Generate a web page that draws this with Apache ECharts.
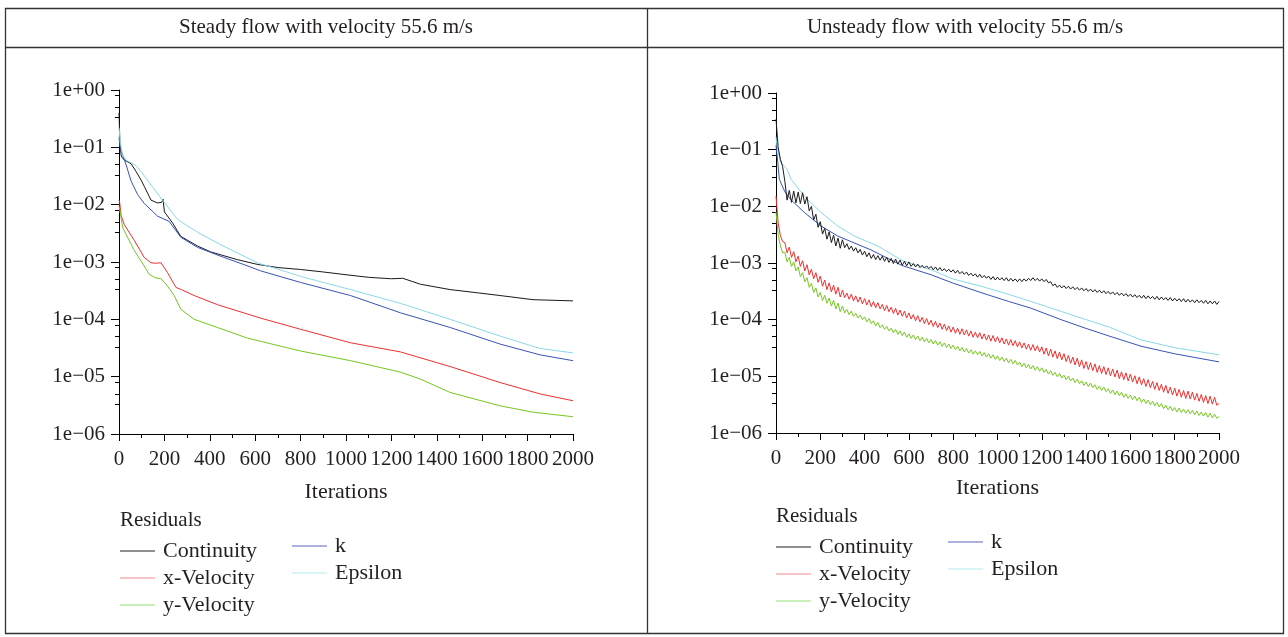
<!DOCTYPE html>
<html><head><meta charset="utf-8">
<script src="https://cdn.jsdelivr.net/npm/echarts@6/dist/echarts.min.js"></script>
<style>html,body{margin:0;padding:0;background:#fff}#c{width:1288px;height:637px}</style>
</head><body><div id="c"></div>
<script>
// ---------- text / categories ----------
const panelTitles = ['Steady flow with velocity 55.6 m/s', 'Unsteady flow with velocity 55.6 m/s'];
const seriesNames = ['Continuity', 'x-Velocity', 'y-Velocity', 'k', 'Epsilon'];
const legendTitle = 'Residuals';
const xAxisName = 'Iterations';
const xTickValues = [0, 200, 400, 600, 800, 1000, 1200, 1400, 1600, 1800, 2000];
const yTickLabels = ['1e\u221206', '1e\u221205', '1e\u221204', '1e\u221203', '1e\u221202', '1e\u221201', '1e+00'];
const yMinorFactors = [0.8, 0.5, 0.33];

// ---------- steady flow: [iteration, residual] ----------
const steadyContinuity = [[0,0.4],[4,0.12],[10,0.07],[23,0.06],[53,0.052],[75,0.038],[97,0.027],[111,0.021],[141,0.012],[170,0.0107],[188,0.011],[194,0.0125],[200,0.0075],[236,0.0048],[272,0.0028],[346,0.0019],[404,0.0015],[521,0.0011],[609,9.1e-4],[700,8e-4],[800,7.4e-4],[900,6.7e-4],[1000,6e-4],[1100,5.4e-4],[1200,5.1e-4],[1250,5.2e-4],[1290,4.6e-4],[1327,4.1e-4],[1459,3.3e-4],[1580,2.9e-4],[1679,2.6e-4],[1824,2.2e-4],[2000,2.1e-4]];
const steadyXVel = [[0,0.012],[3,0.011],[9,0.0065],[16,0.0055],[23,0.0045],[67,0.0024],[111,0.0012],[141,9.7e-4],[160,9.5e-4],[185,9.7e-4],[214,6.5e-4],[251,3.6e-4],[275,3.3e-4],[331,2.6e-4],[434,1.8e-4],[624,1.05e-4],[800,6.7e-5],[1020,3.9e-5],[1240,2.7e-5],[1459,1.5e-5],[1679,7.9e-6],[1855,5e-6],[2000,3.8e-6]];
const steadyYVel = [[0,0.0095],[3,0.009],[9,0.006],[16,0.004],[23,0.0035],[67,0.0016],[111,8.5e-4],[133,6.1e-4],[160,5.3e-4],[185,5.1e-4],[214,3.8e-4],[243,2.6e-4],[272,1.5e-4],[331,1e-4],[434,7.2e-5],[566,4.7e-5],[800,2.8e-5],[1020,1.9e-5],[1240,1.2e-5],[1327,9.1e-6],[1459,5.3e-6],[1679,3.1e-6],[1824,2.4e-6],[2000,2e-6]];
const steadyK = [[0,0.15],[5,0.1],[15,0.075],[31,0.05],[53,0.026],[82,0.015],[111,0.0105],[170,0.0063],[221,0.0051],[272,0.0027],[346,0.0018],[448,0.00126],[551,9e-4],[624,7e-4],[800,4.4e-4],[1020,2.6e-4],[1240,1.3e-4],[1459,7.2e-5],[1679,3.7e-5],[1855,2.4e-5],[2000,1.9e-5]];
const steadyEps = [[0,0.22],[6,0.12],[15,0.075],[30,0.06],[53,0.054],[75,0.048],[97,0.038],[141,0.022],[199,0.011],[258,0.0055],[346,0.0033],[448,0.002],[551,0.00126],[615,9.5e-4],[700,7.5e-4],[800,5.6e-4],[1020,3.3e-4],[1240,1.9e-4],[1459,1e-4],[1679,5.1e-5],[1855,3.1e-5],[2000,2.6e-5]];

// ---------- unsteady flow: log10(residual), one sample every 10 iterations ----------
const unsteadySampleStep = 10;
const unsteadyContinuityLog = [-0.46,-0.97,-1.17,-1.30,-1.56,-1.89,-1.72,-1.93,-1.73,-1.94,
-1.75,-1.95,-1.76,-1.96,-1.83,-2.08,-2.00,-2.24,-2.14,-2.37,
-2.27,-2.49,-2.39,-2.58,-2.45,-2.64,-2.51,-2.70,-2.56,-2.74,
-2.59,-2.73,-2.66,-2.76,-2.70,-2.79,-2.73,-2.82,-2.76,-2.86,
-2.79,-2.89,-2.82,-2.92,-2.85,-2.94,-2.87,-2.95,-2.88,-2.97,
-2.90,-2.99,-2.92,-3.01,-2.93,-3.02,-2.95,-3.04,-2.97,-3.05,
-2.98,-3.06,-3.01,-3.07,-3.02,-3.08,-3.04,-3.09,-3.05,-3.10,
-3.06,-3.12,-3.07,-3.13,-3.08,-3.14,-3.10,-3.15,-3.11,-3.16,
-3.12,-3.18,-3.13,-3.19,-3.15,-3.20,-3.16,-3.22,-3.18,-3.23,
-3.19,-3.25,-3.20,-3.26,-3.22,-3.27,-3.23,-3.29,-3.24,-3.30,
-3.25,-3.30,-3.26,-3.31,-3.26,-3.32,-3.27,-3.32,-3.28,-3.33,
-3.28,-3.33,-3.28,-3.32,-3.27,-3.31,-3.26,-3.31,-3.27,-3.32,
-3.28,-3.33,-3.29,-3.35,-3.33,-3.40,-3.37,-3.43,-3.39,-3.44,
-3.40,-3.45,-3.41,-3.46,-3.42,-3.47,-3.43,-3.48,-3.44,-3.49,
-3.45,-3.50,-3.46,-3.51,-3.47,-3.52,-3.48,-3.53,-3.49,-3.54,
-3.50,-3.55,-3.51,-3.56,-3.52,-3.57,-3.53,-3.58,-3.54,-3.59,
-3.55,-3.60,-3.56,-3.61,-3.57,-3.62,-3.57,-3.63,-3.58,-3.63,
-3.59,-3.64,-3.59,-3.65,-3.60,-3.65,-3.61,-3.66,-3.61,-3.67,
-3.62,-3.67,-3.63,-3.68,-3.63,-3.69,-3.64,-3.69,-3.65,-3.70,
-3.65,-3.70,-3.66,-3.71,-3.66,-3.72,-3.67,-3.72,-3.67,-3.73,
-3.68];
const unsteadyXVelLog = [-1.82,-2.30,-2.52,-2.62,-2.64,-2.82,-2.72,-2.90,-2.80,-2.98,
-2.88,-3.06,-2.96,-3.14,-3.03,-3.21,-3.11,-3.28,-3.17,-3.34,
-3.23,-3.41,-3.30,-3.47,-3.35,-3.51,-3.39,-3.55,-3.43,-3.60,
-3.48,-3.61,-3.53,-3.64,-3.55,-3.67,-3.58,-3.69,-3.60,-3.72,
-3.63,-3.74,-3.65,-3.77,-3.68,-3.79,-3.70,-3.81,-3.73,-3.84,
-3.75,-3.86,-3.78,-3.89,-3.80,-3.92,-3.83,-3.94,-3.85,-3.97,
-3.88,-3.99,-3.91,-4.02,-3.93,-4.04,-3.96,-4.07,-3.98,-4.09,
-4.01,-4.12,-4.03,-4.14,-4.06,-4.17,-4.08,-4.19,-4.11,-4.22,
-4.13,-4.24,-4.15,-4.26,-4.16,-4.27,-4.18,-4.29,-4.20,-4.31,
-4.22,-4.32,-4.23,-4.34,-4.25,-4.36,-4.27,-4.38,-4.28,-4.39,
-4.30,-4.41,-4.32,-4.43,-4.34,-4.45,-4.35,-4.46,-4.37,-4.48,
-4.39,-4.50,-4.41,-4.52,-4.43,-4.54,-4.44,-4.55,-4.46,-4.57,
-4.48,-4.61,-4.50,-4.64,-4.52,-4.66,-4.55,-4.69,-4.57,-4.71,
-4.60,-4.74,-4.63,-4.77,-4.66,-4.80,-4.68,-4.83,-4.71,-4.86,
-4.74,-4.88,-4.76,-4.90,-4.78,-4.93,-4.81,-4.95,-4.83,-4.97,
-4.85,-4.99,-4.87,-5.01,-4.89,-5.04,-4.92,-5.06,-4.94,-5.08,
-4.96,-5.10,-4.99,-5.13,-5.01,-5.15,-5.04,-5.18,-5.06,-5.20,
-5.09,-5.23,-5.11,-5.25,-5.14,-5.28,-5.16,-5.30,-5.19,-5.33,
-5.21,-5.35,-5.23,-5.37,-5.25,-5.39,-5.26,-5.40,-5.28,-5.42,
-5.30,-5.44,-5.32,-5.46,-5.34,-5.48,-5.35,-5.49,-5.37,-5.51,
-5.48];
const unsteadyYVelLog = [-2.10,-2.50,-2.70,-2.82,-2.81,-2.98,-2.90,-3.06,-2.98,-3.14,
-3.07,-3.24,-3.17,-3.33,-3.26,-3.43,-3.36,-3.52,-3.44,-3.60,
-3.52,-3.66,-3.57,-3.71,-3.62,-3.76,-3.66,-3.81,-3.71,-3.86,
-3.76,-3.88,-3.82,-3.91,-3.85,-3.94,-3.89,-3.97,-3.92,-4.00,
-3.95,-4.04,-3.98,-4.07,-4.02,-4.11,-4.05,-4.14,-4.09,-4.17,
-4.12,-4.20,-4.15,-4.23,-4.17,-4.26,-4.20,-4.28,-4.22,-4.31,
-4.25,-4.33,-4.27,-4.35,-4.29,-4.37,-4.31,-4.39,-4.33,-4.41,
-4.35,-4.43,-4.37,-4.45,-4.39,-4.47,-4.41,-4.49,-4.43,-4.51,
-4.45,-4.53,-4.47,-4.55,-4.49,-4.57,-4.51,-4.59,-4.53,-4.61,
-4.55,-4.62,-4.56,-4.64,-4.58,-4.66,-4.60,-4.68,-4.62,-4.70,
-4.64,-4.72,-4.66,-4.74,-4.68,-4.76,-4.70,-4.78,-4.72,-4.80,
-4.75,-4.83,-4.77,-4.85,-4.79,-4.87,-4.81,-4.89,-4.83,-4.91,
-4.85,-4.93,-4.88,-4.96,-4.90,-4.98,-4.93,-5.01,-4.95,-5.03,
-4.98,-5.06,-5.00,-5.08,-5.03,-5.11,-5.05,-5.13,-5.08,-5.16,
-5.10,-5.18,-5.12,-5.20,-5.15,-5.23,-5.17,-5.25,-5.19,-5.27,
-5.22,-5.30,-5.24,-5.32,-5.26,-5.34,-5.28,-5.37,-5.31,-5.39,
-5.33,-5.41,-5.35,-5.43,-5.37,-5.46,-5.40,-5.48,-5.42,-5.50,
-5.44,-5.52,-5.46,-5.54,-5.48,-5.57,-5.51,-5.59,-5.53,-5.61,
-5.55,-5.63,-5.56,-5.64,-5.58,-5.65,-5.59,-5.66,-5.60,-5.68,
-5.61,-5.69,-5.63,-5.70,-5.64,-5.72,-5.65,-5.73,-5.67,-5.74,
-5.71];
const unsteadyK = [[0,0.12],[8,0.06],[15,0.03],[40,0.018],[68,0.013],[128,0.0078],[203,0.0045],[278,0.003],[429,0.0017],[570,9e-4],[700,6.2e-4],[800,4.4e-4],[926,3e-4],[1050,2.1e-4],[1150,1.6e-4],[1287,1e-4],[1400,7e-5],[1500,5.2e-5],[1648,3.4e-5],[1800,2.5e-5],[2000,1.8e-5]];
const unsteadyEps = [[0,0.17],[4,0.12],[8,0.1],[20,0.06],[38,0.051],[50,0.045],[68,0.03],[128,0.015],[203,0.0078],[278,0.0045],[353,0.003],[459,0.002],[570,0.0011],[700,7.6e-4],[800,5.2e-4],[926,3.9e-4],[1050,2.8e-4],[1150,2.1e-4],[1287,1.4e-4],[1400,1e-4],[1500,7.5e-5],[1648,4.4e-5],[1800,3.2e-5],[2000,2.4e-5]];

// ---------- styling ----------
const lineColors = ['#1a1a1a', '#ee3030', '#74c81e', '#3a52b4', '#8ad9e6'];
const legendColors = ['#222222', '#f08c8c', '#92e37a', '#5a64bc', '#b6ecf2'];
const FONT = '"Liberation Serif", "Times New Roman", serif';
const TXT = '#231f20';

function fromLog(arr) { return arr.map((e, i) => [i * unsteadySampleStep, Math.pow(10, e)]); }

const grids = [
  { left: 119, top: 90, width: 454, height: 344 },
  { left: 776, top: 93, width: 443, height: 340 }
];

function xAxisFor(gi, nameGap) {
  return {
    type: 'value', gridIndex: gi, min: 0, max: 2000, interval: 200, position: 'bottom',
    name: xAxisName, nameLocation: 'middle', nameGap: nameGap,
    nameTextStyle: { fontFamily: FONT, fontSize: 22, color: TXT },
    axisLine: { show: true, onZero: false, lineStyle: { color: '#000', width: 1 } },
    axisTick: { show: true, length: 7, lineStyle: { color: '#000' } },
    minorTick: { show: true, splitNumber: 2, length: 4, lineStyle: { color: '#000' } },
    axisLabel: { fontFamily: FONT, fontSize: 21, color: TXT, margin: 15,
      formatter: v => (xTickValues.indexOf(v) >= 0 ? String(v) : '') },
    splitLine: { show: false }, minorSplitLine: { show: false }
  };
}
function yAxisFor(gi) {
  return {
    type: 'log', logBase: 10, gridIndex: gi, min: 1e-6, max: 1, position: 'left',
    axisLine: { show: true, onZero: false, lineStyle: { color: '#000', width: 1 } },
    axisTick: { show: true, length: 8, lineStyle: { color: '#000' } },
    axisLabel: { fontFamily: FONT, fontSize: 21, color: TXT, margin: 14,
      formatter: v => yTickLabels[Math.round(Math.log10(v)) + 6] || '' },
    splitLine: { show: false }
  };
}
// hidden companion axis (log10 space) that only draws the small minor ticks
const minorLogTicks = [];
for (let d = -6; d < 0; d++) yMinorFactors.forEach(f => minorLogTicks.push(d + 1 + Math.log10(f)));
function yMinorAxisFor(gi) {
  return {
    type: 'value', gridIndex: gi, min: -6, max: 0, position: 'left', offset: 0,
    axisLine: { show: false, onZero: false }, axisLabel: { show: false }, splitLine: { show: false },
    axisTick: { show: true, length: 4, customValues: minorLogTicks, lineStyle: { color: '#000' } }
  };
}

function mkSeries(name, data, color, gi) {
  return { type: 'line', name, data, xAxisIndex: gi, yAxisIndex: gi * 2, showSymbol: false,
    symbol: 'none', silent: true, lineStyle: { color, width: 1 }, itemStyle: { color } };
}

const series = [
  mkSeries(seriesNames[0], steadyContinuity, lineColors[0], 0),
  mkSeries(seriesNames[3], steadyK, lineColors[3], 0),
  mkSeries(seriesNames[4], steadyEps, lineColors[4], 0),
  mkSeries(seriesNames[1], steadyXVel, lineColors[1], 0),
  mkSeries(seriesNames[2], steadyYVel, lineColors[2], 0),
  mkSeries(seriesNames[3], unsteadyK, lineColors[3], 1),
  mkSeries(seriesNames[4], unsteadyEps, lineColors[4], 1),
  mkSeries(seriesNames[0], fromLog(unsteadyContinuityLog), lineColors[0], 1),
  mkSeries(seriesNames[1], fromLog(unsteadyXVelLog), lineColors[1], 1),
  mkSeries(seriesNames[2], fromLog(unsteadyYVelLog), lineColors[2], 1)
];

// ---------- frame, headers, legends (layout graphics) ----------
function txt(x, y, s, size, align) {
  return { type: 'text', x, y, silent: true, z: 10,
    style: { text: s, font: size + 'px ' + FONT, fill: TXT,
      align: align || 'left', verticalAlign: 'middle', textAlign: align || 'left', textVerticalAlign: 'middle' } };
}
function seg(x1, y1, x2, y2, color, w) {
  return { type: 'line', silent: true, z: 10, shape: { x1, y1, x2, y2 }, style: { stroke: color, lineWidth: w || 1 } };
}
function legendBlock(x0, yTitle, col1Rows, col2X, col2Rows) {
  const g = [txt(x0, yTitle, legendTitle, 21)];
  [0, 1, 2].forEach((si, r) => {
    g.push(seg(x0, col1Rows[r], x0 + 35, col1Rows[r], legendColors[si], 1.2));
    g.push(txt(x0 + 43, col1Rows[r], seriesNames[si], 22));
  });
  [3, 4].forEach((si, r) => {
    g.push(seg(col2X, col2Rows[r], col2X + 35, col2Rows[r], legendColors[si], 1.2));
    g.push(txt(col2X + 43, col2Rows[r], seriesNames[si], 22));
  });
  return g;
}

const graphic = [
  { type: 'rect', silent: true, z: 10, shape: { x: 5.5, y: 8.5, width: 1278, height: 625 }, style: { fill: 'none', stroke: '#333', lineWidth: 1.3 } },
  seg(5, 47.5, 1284, 47.5, '#333', 1.3),
  seg(647.5, 8, 647.5, 634, '#333', 1.3),
  txt(326, 27, panelTitles[0], 21, 'center'),
  txt(965, 27, panelTitles[1], 21, 'center'),
  ...legendBlock(120, 520, [551, 578, 605], 292, [546, 573]),
  ...legendBlock(776, 516, [547, 574, 601], 948, [542, 569])
];

const chart = echarts.init(document.getElementById('c'), null, { renderer: 'canvas' });
chart.setOption({
  animation: false,
  backgroundColor: '#ffffff',
  grid: grids,
  xAxis: [xAxisFor(0, 47), xAxisFor(1, 44)],
  yAxis: [yAxisFor(0), yMinorAxisFor(0), yAxisFor(1), yMinorAxisFor(1)],
  series,
  graphic
});
</script></body></html>
